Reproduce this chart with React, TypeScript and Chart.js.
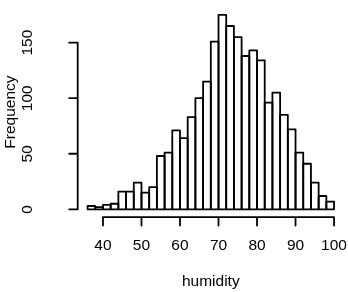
import React, { useEffect, useRef } from "react";
import { Chart, registerables } from "chart.js";

Chart.register(...registerables);

// Histogram bins (midpoints of 2-unit wide bins from 36 to 100)
const binMids = [37, 39, 41, 43, 45, 47, 49, 51, 53, 55, 57, 59, 61, 63, 65, 67, 69, 71, 73, 75, 77, 79, 81, 83, 85, 87, 89, 91, 93, 95, 97, 99];
const counts = [3, 2, 4, 5, 16, 16, 24, 15, 20, 48, 51, 71, 64, 83, 100, 115, 151, 175, 165, 155, 138, 143, 134, 96, 105, 85, 72, 51, 41, 24, 12, 7];
const xTicks = [40, 50, 60, 70, 80, 90, 100];
const yTicks = [0, 50, 100, 150];
const xLabel = "humidity";
const yLabel = "Frequency";

const FONT = "'Liberation Sans', Arial, Helvetica, sans-serif";
const FONT_SIZE = 15.5;
const TICK_LEN = 8.5;
const LINE_W = 1.8;

const rAxesPlugin = {
  id: "rAxes",
  afterDatasetsDraw(chart: any) {
    const { ctx, chartArea } = chart;
    const xs = chart.scales.x;
    const ys = chart.scales.y;
    ctx.save();
    ctx.strokeStyle = "#000";
    ctx.lineWidth = LINE_W;
    ctx.lineJoin = "round";
    ctx.lineCap = "round";
    // bar outlines, centered on the bin edges like R's rect()
    const meta = chart.getDatasetMeta(0);
    meta.data.forEach((el: any) => {
      const p = el.getProps(["x", "y", "base", "width"], true);
      ctx.strokeRect(p.x - p.width / 2, p.y, p.width, p.base - p.y);
    });
    // x axis (R style, spanning first to last tick)
    const yb = chartArea.bottom;
    ctx.beginPath();
    ctx.moveTo(xs.getPixelForValue(xTicks[0]), yb);
    ctx.lineTo(xs.getPixelForValue(xTicks[xTicks.length - 1]), yb);
    xTicks.forEach((v) => {
      const px = xs.getPixelForValue(v);
      ctx.moveTo(px, yb);
      ctx.lineTo(px, yb + TICK_LEN);
    });
    // y axis
    const xl = chartArea.left;
    ctx.moveTo(xl, ys.getPixelForValue(yTicks[0]));
    ctx.lineTo(xl, ys.getPixelForValue(yTicks[yTicks.length - 1]));
    yTicks.forEach((v) => {
      const py = ys.getPixelForValue(v);
      ctx.moveTo(xl, py);
      ctx.lineTo(xl - TICK_LEN, py);
    });
    ctx.stroke();
    ctx.restore();
  },
};

export default function App() {
  const canvasRef = useRef<HTMLCanvasElement | null>(null);

  useEffect(() => {
    const canvas = canvasRef.current;
    if (!canvas) return;
    const chart = new Chart(canvas, {
      type: "bar",
      data: {
        datasets: [
          {
            data: binMids.map((m, i) => ({ x: m, y: counts[i] })),
            backgroundColor: "#ffffff",
            borderWidth: 0,
            barPercentage: 1,
            categoryPercentage: 1,
          },
        ],
      },
      options: {
        animation: false,
        responsive: false,
        events: [],
        layout: { padding: { top: 7.1, right: 4.1, left: 0, bottom: 0 } },
        plugins: {
          legend: { display: false },
          tooltip: { enabled: false },
        },
        scales: {
          x: {
            type: "linear",
            min: 33.44,
            max: 102.56,
            offset: false,
            grid: { display: false, drawTicks: false },
            border: { display: false },
            afterBuildTicks: (s: any) => {
              s.ticks = xTicks.map((v) => ({ value: v }));
            },
            afterFit: (s: any) => {
              s.height = 74.9;
              s.paddingLeft = 0;
              s.paddingRight = 0;
              s.paddingTop = 0;
              s.paddingBottom = 0;
            },
            ticks: {
              autoSkip: false,
              minRotation: 0,
              maxRotation: 0,
              padding: 18.9,
              color: "#000",
              font: { family: FONT, size: FONT_SIZE },
              callback: (v: any) => String(v),
            },
            title: {
              display: true,
              text: xLabel,
              color: "#000",
              font: { family: FONT, size: FONT_SIZE },
              padding: { top: 0, bottom: 0.8 },
            },
          },
          y: {
            type: "linear",
            min: -7,
            max: 182,
            grid: { display: false, drawTicks: false },
            border: { display: false },
            afterBuildTicks: (s: any) => {
              s.ticks = yTicks.map((v) => ({ value: v }));
            },
            afterFit: (s: any) => {
              s.width = 77.7;
              s.paddingLeft = 0;
              s.paddingRight = 0;
              s.paddingTop = 0;
              s.paddingBottom = 0;
            },
            ticks: {
              autoSkip: false,
              minRotation: 90,
              maxRotation: 90,
              crossAlign: "center",
              padding: 37.5,
              color: "#000",
              font: { family: FONT, size: FONT_SIZE },
              callback: (v: any) => String(v),
            },
            title: {
              display: true,
              text: yLabel,
              color: "#000",
              font: { family: FONT, size: FONT_SIZE },
              padding: { top: 1.1, bottom: 0 },
            },
          },
        },
      } as any,
      plugins: [rAxesPlugin],
    });
    return () => chart.destroy();
  }, []);

  return (
    <div style={{ position: "fixed", left: 0, top: 0, width: 348, height: 292, background: "#fff" }}>
      <canvas ref={canvasRef} width={348} height={292} style={{ width: 348, height: 292, display: "block" }} />
    </div>
  );
}
